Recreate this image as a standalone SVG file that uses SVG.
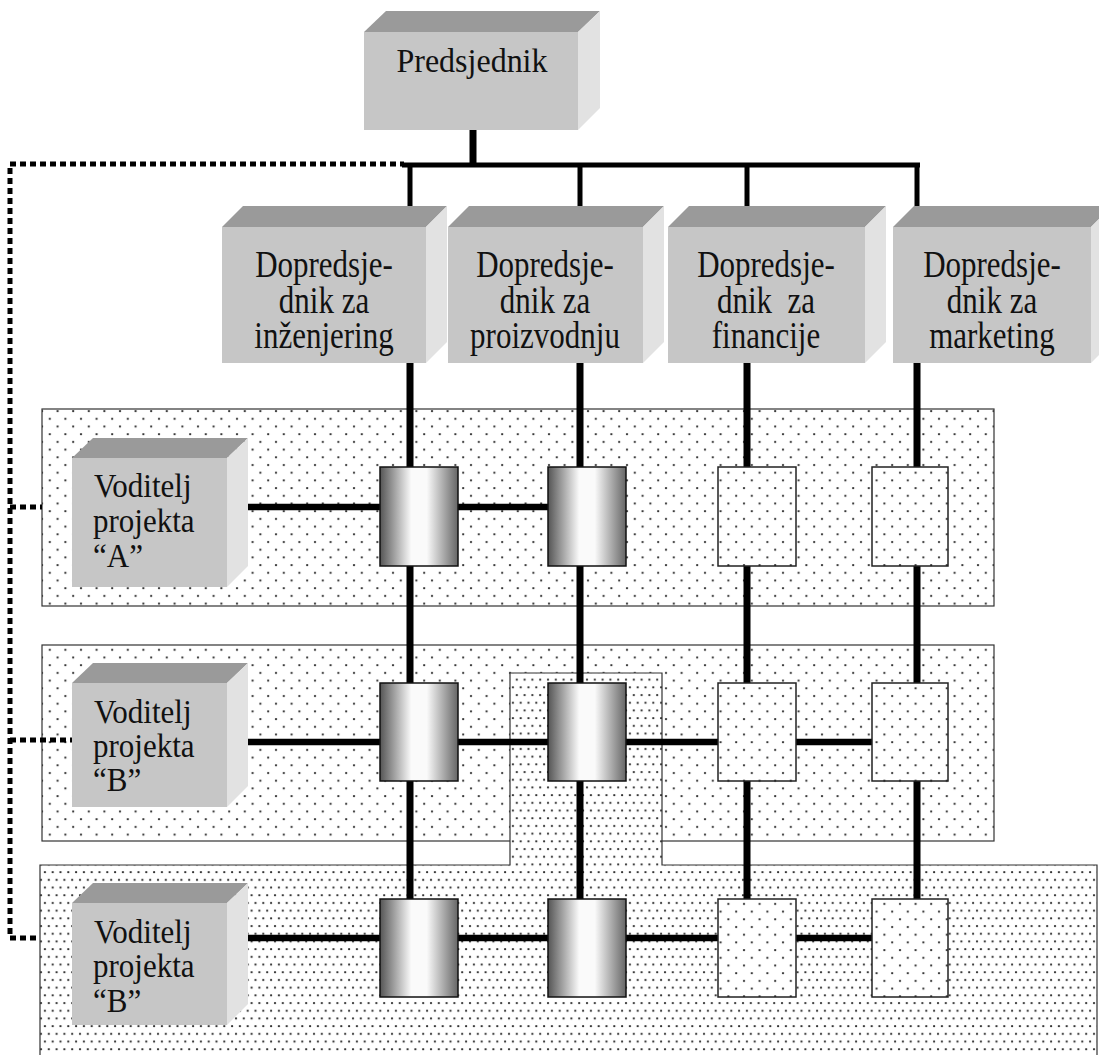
<svg xmlns="http://www.w3.org/2000/svg" width="1099" height="1055" viewBox="0 0 1099 1055">
<defs>
  <pattern id="sparse" patternUnits="userSpaceOnUse" width="15.6" height="15.4">
    <rect width="15.6" height="15.4" fill="#fff"/>
    <circle cx="3" cy="3" r="1.15" fill="#333"/>
    <circle cx="10.8" cy="10.7" r="1.15" fill="#333"/>
  </pattern>
  <pattern id="dense" patternUnits="userSpaceOnUse" width="7.8" height="15.4">
    <rect width="7.8" height="15.4" fill="#fff"/>
    <circle cx="2" cy="2" r="1.15" fill="#333"/>
    <circle cx="5.9" cy="9.7" r="1.15" fill="#333"/>
  </pattern>
  <linearGradient id="cyl" x1="0" y1="0" x2="1" y2="0">
    <stop offset="0" stop-color="#555"/>
    <stop offset="0.4" stop-color="#fafafa"/>
    <stop offset="0.6" stop-color="#fafafa"/>
    <stop offset="1" stop-color="#666"/>
  </linearGradient>
  <clipPath id="clip4"><rect x="893" y="227" width="198" height="136"/></clipPath>
</defs>
<style>
  .front{fill:#c6c6c6}
  .top{fill:#9a9a9a}
  .side{fill:#e2e2e2}
  .t{font-family:"Liberation Serif","Times New Roman",serif;font-size:31px;fill:#111}
  .tc{text-anchor:middle}
  .panel{stroke:#333;stroke-width:1.2}
  .cellg{fill:url(#cyl);stroke:#111;stroke-width:1.5}
  .celld{fill:url(#sparse);stroke:#222;stroke-width:1.5}
  .solid{stroke:#000;fill:none}
  .dotted{stroke:#000;fill:none;stroke-width:5;stroke-dasharray:6 4}
</style>
<rect width="1099" height="1055" fill="#fff"/>

<g id="panel-a"><rect class="panel" x="42" y="409" width="952" height="197" fill="url(#sparse)"/></g>
<g id="panel-b"><rect class="panel" x="42" y="645" width="952" height="196" fill="url(#sparse)"/></g>
<g id="panel-c"><path class="panel" d="M40,1060 V865 H510 V673 H662 V865 H1097 V1060" fill="url(#dense)"/></g>

<g id="connectors">
  <path class="dotted" d="M10,164 H404"/>
  <path class="dotted" d="M10,168 V938"/>
  <path class="dotted" d="M10,507 H42"/>
  <path class="dotted" d="M10,740 H72"/>
  <path class="dotted" d="M10,938 H40"/>
  <path class="solid" stroke-width="7" d="M473,130 V166"/>
  <path class="solid" stroke-width="5" d="M402,165 H920"/>
  <path class="solid" stroke-width="5" d="M410,165 V207 M580,165 V207 M747,165 V207 M917,165 V207"/>
  <path class="solid" stroke-width="7" d="M410,363 V900 M580,363 V900 M747,363 V900 M917,363 V900"/>
  <path class="solid" stroke-width="6.5" d="M227,507 H548"/>
  <path class="solid" stroke-width="6.5" d="M227,742 H872"/>
  <path class="solid" stroke-width="6.5" d="M227,938 H872"/>
</g>

<g id="predsjednik">
  <polygon class="top" points="364,32 386,11 600,11 578,32"/>
  <polygon class="side" points="578,32 600,11 600,108 578,130"/>
  <rect class="front" x="364" y="32" width="214" height="98"/>
  <text class="t tc" x="472" y="72" style="font-size:32px" transform="matrix(1 0 0 1.05 0 -3.6)">Predsjednik</text>
</g>

<g id="vp-inzenjering">
  <polygon class="top" points="222,227 243,206 447,206 426,227"/>
  <polygon class="side" points="426,227 447,206 447,342 426,363"/>
  <rect class="front" x="222" y="227" width="204" height="136"/>
  <text class="t tc" x="324" y="277" transform="matrix(1 0 0 1.2 0 -55.4)">Dopredsje-</text>
  <text class="t tc" x="324" y="313" transform="matrix(1 0 0 1.2 0 -62.6)">dnik za</text>
  <text class="t tc" x="324" y="348" transform="matrix(1 0 0 1.2 0 -69.6)">inženjering</text>
</g>
<g id="vp-proizvodnja">
  <polygon class="top" points="448,227 469,206 664,206 643,227"/>
  <polygon class="side" points="643,227 664,206 664,342 643,363"/>
  <rect class="front" x="448" y="227" width="195" height="136"/>
  <text class="t tc" x="545" y="277" transform="matrix(1 0 0 1.2 0 -55.4)">Dopredsje-</text>
  <text class="t tc" x="545" y="313" transform="matrix(1 0 0 1.2 0 -62.6)">dnik za</text>
  <text class="t tc" x="545" y="348" transform="matrix(1 0 0 1.2 0 -69.6)">proizvodnju</text>
</g>
<g id="vp-financije">
  <polygon class="top" points="668,227 689,206 886,206 865,227"/>
  <polygon class="side" points="865,227 886,206 886,342 865,363"/>
  <rect class="front" x="668" y="227" width="197" height="136"/>
  <text class="t tc" x="766" y="277" transform="matrix(1 0 0 1.2 0 -55.4)">Dopredsje-</text>
  <text class="t tc" x="766" y="313" transform="matrix(1 0 0 1.2 0 -62.6)" xml:space="preserve">dnik  za</text>
  <text class="t tc" x="766" y="348" transform="matrix(1 0 0 1.2 0 -69.6)">financije</text>
</g>
<g id="vp-marketing">
  <polygon class="top" points="893,227 914,206 1112,206 1091,227"/>
  <polygon class="side" points="1091,227 1112,206 1112,342 1091,363"/>
  <rect class="front" x="893" y="227" width="198" height="136"/>
  <g clip-path="url(#clip4)">
    <text class="t tc" x="992" y="277" transform="matrix(1 0 0 1.2 0 -55.4)">Dopredsje-</text>
    <text class="t tc" x="992" y="313" transform="matrix(1 0 0 1.2 0 -62.6)">dnik za</text>
    <text class="t tc" x="992" y="348" transform="matrix(1 0 0 1.2 0 -69.6)">marketing</text>
  </g>
</g>

<g id="voditelj-a">
  <polygon class="top" points="72,458 93,438 248,438 227,458"/>
  <polygon class="side" points="227,458 248,438 248,566 227,587"/>
  <rect class="front" x="72" y="458" width="155" height="129"/>
  <text class="t" x="94" y="497" transform="matrix(1 0 0 1.1 0 -49.7)">Voditelj</text>
  <text class="t" x="93" y="532" transform="matrix(1 0 0 1.1 0 -53.2)">projekta</text>
  <text class="t" x="93" y="567" transform="matrix(1 0 0 1.1 0 -56.7)">“A”</text>
</g>
<g id="voditelj-b1">
  <polygon class="top" points="72,683 93,663 248,663 227,683"/>
  <polygon class="side" points="227,683 248,663 248,786 227,807"/>
  <rect class="front" x="72" y="683" width="155" height="124"/>
  <text class="t" x="94" y="723" transform="matrix(1 0 0 1.1 0 -72.3)">Voditelj</text>
  <text class="t" x="93" y="757" transform="matrix(1 0 0 1.1 0 -75.7)">projekta</text>
  <text class="t" x="93" y="791" transform="matrix(1 0 0 1.1 0 -79.1)">“B”</text>
</g>
<g id="voditelj-b2">
  <polygon class="top" points="72,903 93,883 248,883 227,903"/>
  <polygon class="side" points="227,903 248,883 248,1004 227,1025"/>
  <rect class="front" x="72" y="903" width="155" height="122"/>
  <text class="t" x="94" y="943" transform="matrix(1 0 0 1.1 0 -94.3)">Voditelj</text>
  <text class="t" x="93" y="977" transform="matrix(1 0 0 1.1 0 -97.7)">projekta</text>
  <text class="t" x="93" y="1012" transform="matrix(1 0 0 1.1 0 -101.2)">“B”</text>
</g>

<g id="cell-a1"><rect class="cellg" x="380" y="467" width="78" height="99"/></g>
<g id="cell-a2"><rect class="cellg" x="548" y="467" width="78" height="99"/></g>
<g id="cell-a3"><rect class="celld" x="718" y="467" width="78" height="99"/></g>
<g id="cell-a4"><rect class="celld" x="872" y="467" width="76" height="99"/></g>

<g id="cell-b1"><rect class="cellg" x="380" y="683" width="78" height="98"/></g>
<g id="cell-b2"><rect class="cellg" x="548" y="683" width="78" height="98"/></g>
<g id="cell-b3"><rect class="celld" x="718" y="683" width="78" height="98"/></g>
<g id="cell-b4"><rect class="celld" x="872" y="683" width="76" height="98"/></g>

<g id="cell-c1"><rect class="cellg" x="380" y="899" width="78" height="98"/></g>
<g id="cell-c2"><rect class="cellg" x="548" y="899" width="78" height="98"/></g>
<g id="cell-c3"><rect class="celld" x="718" y="899" width="78" height="98"/></g>
<g id="cell-c4"><rect class="celld" x="872" y="899" width="76" height="98"/></g>
</svg>
